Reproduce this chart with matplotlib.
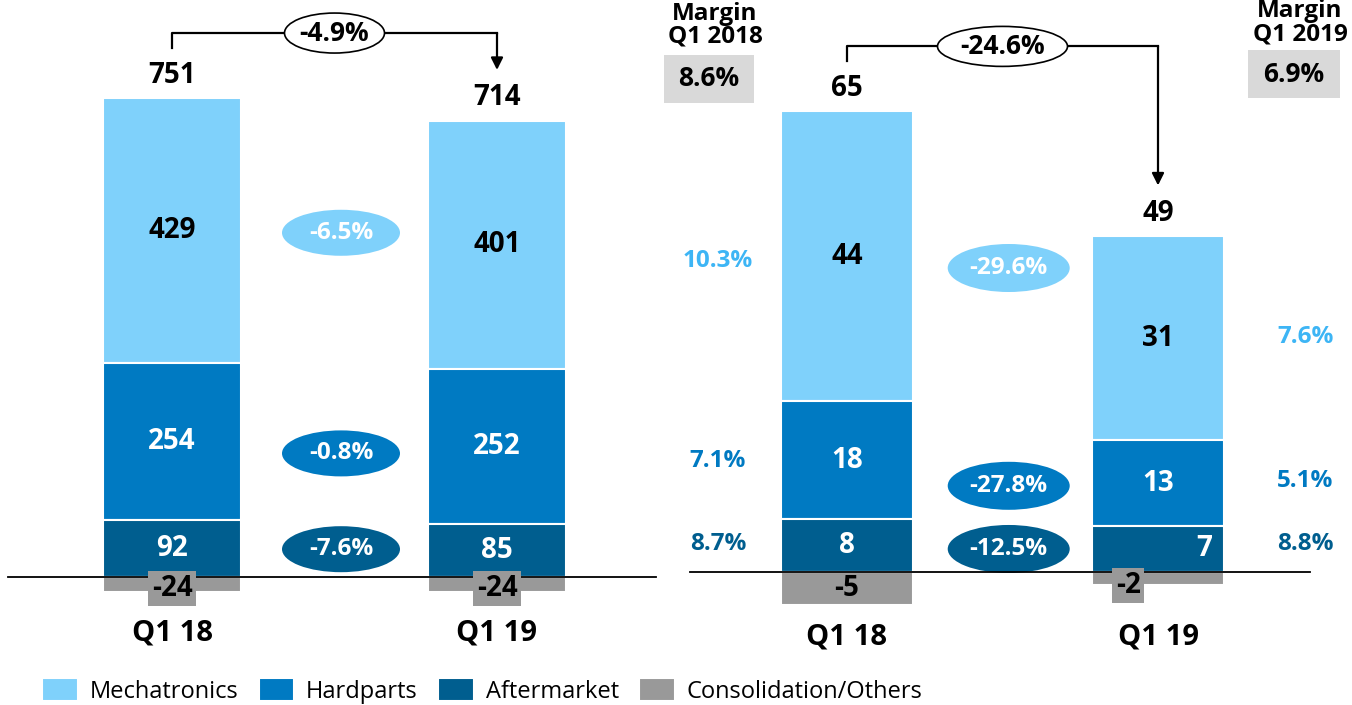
import matplotlib.pyplot as plt
from matplotlib.patches import Ellipse, Rectangle

plt.rcParams['font.family'] = ['Open Sans', 'DejaVu Sans']

# data
categories = ['Q1 18', 'Q1 19']
segments = ['Mechatronics', 'Hardparts', 'Aftermarket', 'Consolidation/Others']

sales_mech = [429, 401]
sales_hard = [254, 252]
sales_after = [92, 85]
sales_cons = [-24, -24]
sales_total = [751, 714]
sales_growth = ['-6.5%', '-0.8%', '-7.6%']
sales_total_growth = '-4.9%'

ebit_mech = [44, 31]
ebit_hard = [18, 13]
ebit_after = [8, 7]
ebit_cons = [-5, -2]
ebit_total = [65, 49]
ebit_growth = ['-29.6%', '-27.8%', '-12.5%']
ebit_total_growth = '-24.6%'
margin_2018 = ['10.3%', '7.1%', '8.7%']
margin_2019 = ['7.6%', '5.1%', '8.8%']
margin_total = ['8.6%', '6.9%']

colors = ['#7FD1FB', '#007AC2', '#005E8F', '#999999']
text_colors = ['#3DB5F5', '#007AC2', '#005E8F']

W, H = 1352, 705
fig = plt.figure(figsize=(W / 100, H / 100), dpi=100)

NUM = 20


def make_axes(left_px, width_px, x0_px, sx, base_px, sy):
    ax = fig.add_axes([left_px / W, 0, width_px / W, 1])
    ax.set_xlim(-(x0_px - left_px) / sx, (left_px + width_px - x0_px) / sx)
    ax.set_ylim(-(H - base_px) / sy, base_px / sy)
    ax.axis('off')
    return ax


def draw_panel(ax, mech, hard, after, cons, totals, growth, total_growth,
               sx, sy, growth_y, ell_size, top_ell_w, cat_off, neg_box):
    x = [0, 1]
    w = 0.425
    mid = [a + h for a, h in zip(after, hard)]
    bars = []
    bars.append(ax.bar(x, mech, w, bottom=mid, color=colors[0], edgecolor='white', linewidth=1.5))
    bars.append(ax.bar(x, hard, w, bottom=after, color=colors[1], edgecolor='white', linewidth=1.5))
    bars.append(ax.bar(x, after, w, color=colors[2], edgecolor='white', linewidth=1.5))
    bars.append(ax.bar(x, cons, w, color=colors[3], edgecolor='white', linewidth=1.5))
    ax.plot([-0.505, 1.49], [0, 0], color='black', lw=1.3, zorder=3)

    for i in x:
        ax.text(i, mid[i] + mech[i] / 2, str(mech[i]), ha='center', va='center',
                fontsize=NUM, fontweight='bold', color='black')
        ax.text(i, after[i] + hard[i] / 2, str(hard[i]), ha='center', va='center',
                fontsize=NUM, fontweight='bold', color='white')
        ax.text(i + neg_box[i][1], after[i] / 2, str(after[i]), ha='center', va='center',
                fontsize=NUM, fontweight='bold', color='white')
        bb = dict(boxstyle='square,pad=0.12', fc=colors[3], ec='none') if neg_box[i][0] else None
        ax.text(i + neg_box[i][2], cons[i] / 2 + neg_box[i][3] / sy, str(cons[i]), ha='center',
                va='center', fontsize=NUM, fontweight='bold', color='black', bbox=bb, zorder=4)
        ax.text(i, 0 - cat_off / sy, categories[i], ha='center', va='center',
                fontsize=21, fontweight='bold')

    # totals and bracket
    tops = [m + d for m, d in zip(mech, mid)]
    lab_y = [t + 23 / sy for t in tops]
    for i in x:
        ax.text(i, lab_y[i], str(totals[i]), ha='center', va='center',
                fontsize=NUM, fontweight='bold')
    y_start = lab_y[0] + 27 / sy
    y_end = lab_y[1] + 28 / sy
    y_top = max(y_start, y_end) + 15 / sy
    ax.plot([0, 0, 1], [y_start, y_top, y_top], color='black', lw=1.6)
    ax.annotate('', xy=(1, y_end), xytext=(1, y_top),
                arrowprops=dict(arrowstyle='-|>', color='black', lw=1.6,
                                mutation_scale=18, shrinkA=0, shrinkB=0))
    ax.add_patch(Ellipse((0.5, y_top), top_ell_w / sx, 40 / sy, fc='white', ec='black', lw=1.2, zorder=3))
    ax.text(0.5, y_top, total_growth, ha='center', va='center', fontsize=19,
            fontweight='bold', zorder=4)

    # growth ellipses
    for k in range(3):
        ax.add_patch(Ellipse((0.52, growth_y[k]), ell_size[0] / sx, ell_size[1] / sy,
                             fc=colors[k], ec='none'))
        ax.text(0.52, growth_y[k], growth[k], ha='center', va='center', fontsize=17.5,
                fontweight='bold', color='white')
    return bars


sx1, sy1 = 325, 0.618
sx2, sy2 = 311, 6.58
ax1 = make_axes(0, 660, 172, sx1, 577, sy1)
ax2 = make_axes(660, 692, 847, sx2, 572, sy2)

bars = draw_panel(ax1, sales_mech, sales_hard, sales_after, sales_cons, sales_total,
                  sales_growth, sales_total_growth, sx1, sy1, [557, 200, 45], (118, 46), 100, 56,
                  [(True, 0, 0, -4), (True, 0, 0, -4)])
draw_panel(ax2, ebit_mech, ebit_hard, ebit_after, ebit_cons, ebit_total,
           ebit_growth, ebit_total_growth, sx2, sy2, [46.2, 13.1, 3.5], (122, 48), 130, 65,
           [(False, 0, 0, 0), (True, 0.15, -0.096, -7)])

# margins beside right panel
for k, y in enumerate([47.3, 16.9, 4.3]):
    ax2.text(-0.415, y, margin_2018[k], ha='center', va='center', fontsize=17.5,
             fontweight='bold', color=text_colors[k])
for k, y in enumerate([35.7, 13.8, 4.3]):
    ax2.text(1.473, y, margin_2019[k], ha='center', va='center', fontsize=17.5,
             fontweight='bold', color=text_colors[k])

# margin headers and boxes
fig.text(715 / W, 1 - 49 / H, 'Margin\nQ1 2018', ha='center', va='bottom', fontsize=17.5,
         fontweight='bold', linespacing=0.92)
fig.text(1300 / W, 1 - 46 / H, 'Margin\nQ1 2019', ha='center', va='bottom', fontsize=17.5,
         fontweight='bold', linespacing=0.92)
for (x0, y0, x1, y1), txt in zip([(664, 55, 754, 103), (1248, 50, 1340, 98)], margin_total):
    fig.add_artist(Rectangle((x0 / W, 1 - y1 / H), (x1 - x0) / W, (y1 - y0) / H,
                             transform=fig.transFigure, fc='#D9D9D9', ec='none'))
    fig.text((x0 + x1) / 2 / W, 1 - (y0 + y1) / 2 / H, txt, ha='center', va='center',
             fontsize=19, fontweight='bold')

fig.legend([b[0] for b in bars], segments, loc='center left', bbox_to_anchor=(42 / W, 1 - 691 / H),
           ncol=4, frameon=False, fontsize=17, handlelength=1.52, handleheight=1.1,
           handletextpad=0.5, columnspacing=0.85, borderaxespad=0, borderpad=0)

plt.savefig('out.png', dpi=100)
